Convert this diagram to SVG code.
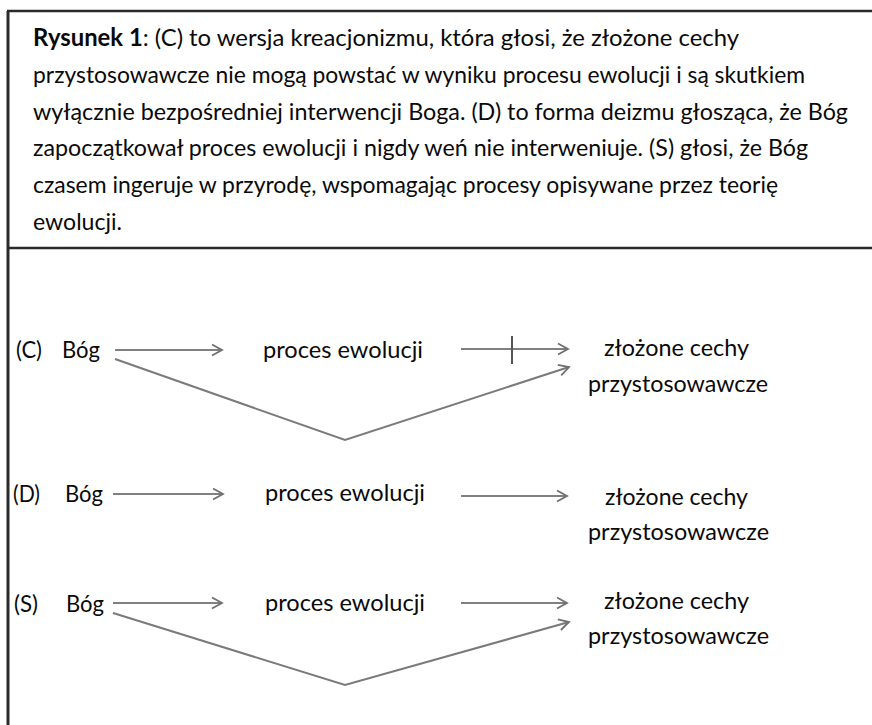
<svg xmlns="http://www.w3.org/2000/svg" width="872" height="725" viewBox="0 0 872 725">
<defs>
<style>
text{font-family:Lato,"Carlito","Liberation Sans",sans-serif;font-size:24px;fill:#0a0a0a}
.b{font-weight:bold}
.frame{stroke:#2a2a2a;fill:none}
.arr{stroke:#808080;stroke-width:2;fill:none;marker-end:url(#head)}
.v{stroke:#7a7a7a;stroke-width:2;fill:none;stroke-linejoin:miter}
.tick{stroke:#555;stroke-width:2}
</style>
<marker id="head" markerUnits="userSpaceOnUse" markerWidth="14" markerHeight="14" refX="11" refY="6" orient="auto" viewBox="0 0 14 12">
<path d="M1,0.5 L11,6 L1,11.5" fill="none" stroke="#707070" stroke-width="1.8"/>
</marker>
</defs>
<rect width="872" height="725" fill="#fff"/>
<g id="frame">
<line class="frame" x1="8" y1="11" x2="8" y2="725" stroke-width="3"/>
<line class="frame" x1="7" y1="11" x2="872" y2="11" stroke-width="2.5"/>
<line class="frame" x1="7" y1="248" x2="872" y2="248" stroke-width="2.5"/>
</g>
<g id="caption">
<text x="33" y="46" textLength="706" lengthAdjust="spacingAndGlyphs"><tspan class="b">Rysunek 1</tspan>: (C) to wersja kreacjonizmu, która głosi, że złożone cechy</text>
<text x="33" y="83" textLength="772" lengthAdjust="spacingAndGlyphs">przystosowawcze nie mogą powstać w wyniku procesu ewolucji i są skutkiem</text>
<text x="33" y="120" textLength="815" lengthAdjust="spacingAndGlyphs">wyłącznie bezpośredniej interwencji Boga. (D) to forma deizmu głosząca, że Bóg</text>
<text x="33" y="156" textLength="775" lengthAdjust="spacingAndGlyphs">zapoczątkował proces ewolucji i nigdy weń nie interweniuje. (S) głosi, że Bóg</text>
<text x="33" y="193" textLength="745" lengthAdjust="spacingAndGlyphs">czasem ingeruje w przyrodę, wspomagając procesy opisywane przez teorię</text>
<text x="33" y="230" textLength="89" lengthAdjust="spacingAndGlyphs">ewolucji.</text>
</g>
<g id="connectors">
<line class="arr" x1="115" y1="350" x2="222" y2="350"/>
<line class="arr" x1="461" y1="349" x2="568" y2="349"/>
<line class="tick" x1="512" y1="336" x2="512" y2="364"/>
<polyline class="v" points="115,359 345,440 569,367" marker-end="url(#head)"/>
<line class="arr" x1="113" y1="494" x2="223" y2="494"/>
<line class="arr" x1="461" y1="496" x2="567" y2="496"/>
<line class="arr" x1="113" y1="603" x2="222" y2="603"/>
<line class="arr" x1="461" y1="603" x2="567" y2="603"/>
<polyline class="v" points="113,613 345,685 569,622" marker-end="url(#head)"/>
</g>
<g id="row-C">
<text x="16" y="358" textLength="26" lengthAdjust="spacingAndGlyphs">(C)</text>
<g id="C-bog"><text x="62" y="358" textLength="38" lengthAdjust="spacingAndGlyphs">Bóg</text></g>
<g id="C-proces"><text x="263" y="358" textLength="160" lengthAdjust="spacingAndGlyphs">proces ewolucji</text></g>
<g id="C-cechy"><text x="604" y="356" textLength="145" lengthAdjust="spacingAndGlyphs">złożone cechy</text><text x="588" y="392" textLength="180" lengthAdjust="spacingAndGlyphs">przystosowawcze</text></g>
</g>
<g id="row-D">
<text x="13" y="502" textLength="27" lengthAdjust="spacingAndGlyphs">(D)</text>
<g id="D-bog"><text x="65" y="502" textLength="38" lengthAdjust="spacingAndGlyphs">Bóg</text></g>
<g id="D-proces"><text x="265" y="501" textLength="160" lengthAdjust="spacingAndGlyphs">proces ewolucji</text></g>
<g id="D-cechy"><text x="605" y="505" textLength="143" lengthAdjust="spacingAndGlyphs">złożone cechy</text><text x="588" y="540" textLength="181" lengthAdjust="spacingAndGlyphs">przystosowawcze</text></g>
</g>
<g id="row-S">
<text x="14" y="612" textLength="24" lengthAdjust="spacingAndGlyphs">(S)</text>
<g id="S-bog"><text x="66" y="612" textLength="38" lengthAdjust="spacingAndGlyphs">Bóg</text></g>
<g id="S-proces"><text x="265" y="611" textLength="160" lengthAdjust="spacingAndGlyphs">proces ewolucji</text></g>
<g id="S-cechy"><text x="604" y="609" textLength="145" lengthAdjust="spacingAndGlyphs">złożone cechy</text><text x="588" y="644" textLength="181" lengthAdjust="spacingAndGlyphs">przystosowawcze</text></g>
</g>
</svg>
